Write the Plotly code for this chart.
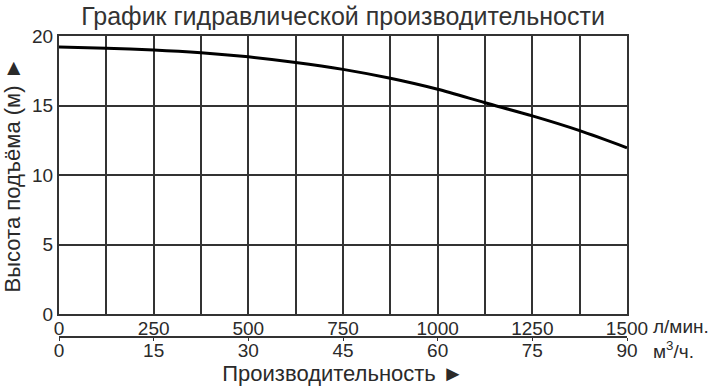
import plotly.graph_objects as go

# Flow (l/min) and head (m)
flow_lmin = [0, 125, 250, 375, 500, 625, 750, 875, 1000, 1125, 1250, 1375, 1500]
head_m = [19.2, 19.12, 19.0, 18.8, 18.5, 18.1, 17.6, 16.96, 16.17, 15.2, 14.25, 13.19, 11.96]

lmin_ticks = [0, 250, 500, 750, 1000, 1250, 1500]
lmin_minor = [125, 375, 625, 875, 1125, 1375]
m3h_ticks = [0, 15, 30, 45, 60, 75, 90]
head_ticks = [0, 5, 10, 15, 20]

GRID = "#333333"
TXT = "#2a2a2a"
FONT = "Liberation Sans, Arial, sans-serif"

fig = go.Figure()
fig.add_trace(go.Scatter(x=flow_lmin, y=head_m, mode="lines",
                         line=dict(color="black", width=3, shape="spline", smoothing=0.8),
                         showlegend=False, hoverinfo="skip"))
fig.add_trace(go.Scatter(x=[m3h_ticks[0], m3h_ticks[-1]], y=[0, 0], xaxis="x2",
                         mode="lines", line=dict(width=0, color="rgba(0,0,0,0)"),
                         showlegend=False, hoverinfo="skip"))

W, H = 713, 386
L, R, T, B = 59, 86, 36, 49
plot_bottom = 314
paper_h = H - T - B
d0 = ((H - B) - plot_bottom) / paper_h

fig.update_layout(
    width=W, height=H,
    margin=dict(l=L, r=R, t=T, b=B, autoexpand=False),
    paper_bgcolor="white", plot_bgcolor="white",
    font=dict(family=FONT, size=19, color=TXT),
    title=dict(text="График гидравлической производительности",
               x=0.5, xref="paper", xanchor="center",
               y=1 - 16 / H, yanchor="middle",
               font=dict(size=25, color="#333333")),
    xaxis=dict(range=[0, 1500], tickvals=lmin_ticks, showgrid=True,
               gridcolor=GRID, gridwidth=1.5,
               minor=dict(tickvals=lmin_minor, showgrid=True, gridcolor=GRID, gridwidth=1.5),
               showline=True, linecolor=GRID, linewidth=2, mirror=True,
               ticks="", zeroline=False, fixedrange=True, automargin=False,
               ticklabelstandoff=-4,
               tickfont=dict(size=19, color=TXT)),
    xaxis2=dict(range=[0, 90], tickvals=m3h_ticks, overlaying="x", anchor="free",
                position=0, side="bottom", showgrid=False, zeroline=False,
                showline=True, linecolor=GRID, linewidth=1.5, automargin=False,
                ticks="outside", ticklen=3, tickcolor=GRID,
                ticklabelstandoff=-7,
                tickfont=dict(size=19, color=TXT),
                title=dict(text="Производительность ►", standoff=0,
                           font=dict(size=22, color=TXT))),
    yaxis=dict(range=[0, 20], tickvals=head_ticks, domain=[d0, 1],
               showgrid=True, gridcolor=GRID, gridwidth=1.5,
               showline=True, linecolor=GRID, linewidth=2, mirror=True,
               ticks="", zeroline=False, fixedrange=True, automargin=False,
               tickfont=dict(size=19, color=TXT),
               title=dict(text="Высота подъёма (м) ►", standoff=8,
                          font=dict(size=22, color=TXT))),
    annotations=[
        dict(text="л/мин.", xref="paper", yref="paper",
             x=(651 - L) / (W - L - R), y=((H - B) - 326) / paper_h,
             xanchor="left", yanchor="middle", showarrow=False,
             font=dict(size=19, color=TXT)),
        dict(text="м<sup>3</sup>/ч.", xref="paper", yref="paper",
             x=(651 - L) / (W - L - R), y=((H - B) - 350) / paper_h,
             xanchor="left", yanchor="middle", showarrow=False,
             font=dict(size=19, color=TXT)),
    ],
)

fig.write_html("out.html")
